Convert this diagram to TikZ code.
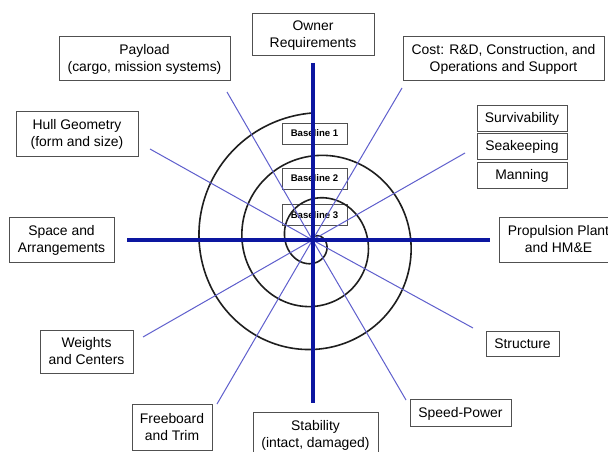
\documentclass[tikz,border=0pt]{standalone}
\usepackage{fontspec}
\setmainfont{Liberation Sans}
\definecolor{thick}{RGB}{12,22,160}
\definecolor{thin}{RGB}{95,95,205}
\definecolor{boxc}{RGB}{80,80,80}
\definecolor{spir}{RGB}{30,30,30}
\tikzset{
  lbl/.style={draw=boxc, line width=0.9pt, fill=white, inner sep=0pt, align=center,
    text depth=0.3pt, font=\fontsize{13.9}{17}\selectfont},
  basebox/.style={draw=boxc, line width=0.9pt, fill=white, inner sep=0pt,
    minimum width=65pt, minimum height=21pt, font=\fontsize{9.6}{11}\selectfont\bfseries},
  thickline/.style={draw=thick, line width=4pt},
  thinline/.style={draw=thin, line width=1pt},
  spiralline/.style={draw=spir, line width=1.6pt}
}
\begin{document}
\begin{tikzpicture}[x=1pt, y=-1pt,
  declare function={spr(\t)=127-0.1194*\t+1.175+3.65*cos(90+\t)-2*sin(90+\t)-0.825*cos(180+2*\t);}]
\useasboundingbox (0,0) rectangle (608,452);
\clip (0,0) rectangle (608,452);
\fill[white] (0,0) rectangle (608,452);

% boxes
\node[lbl, minimum width=122pt, minimum height=42pt] (owner) at (313,34) {Owner\\Requirements};
\node[lbl, minimum width=171pt, minimum height=44pt] (payload) at (144.5,58) {Payload\\(cargo, mission systems)};
\node[lbl, minimum width=122pt, minimum height=45pt] (hull) at (77,133.5) {Hull Geometry\\(form and size)};
\node[lbl, minimum width=201pt, minimum height=44pt] (cost) at (503.5,58) {Cost: R\&D, Construction, and\\Operations and Support};
\node[lbl, minimum width=90pt, minimum height=26pt] (surv) at (522,118) {Survivability};
\node[lbl, minimum width=90pt, minimum height=26pt] (seak) at (522,146) {Seakeeping};
\node[lbl, minimum width=90pt, minimum height=26pt] (mann) at (522,175) {Manning};
\node[lbl, minimum width=105pt, minimum height=45pt] (space) at (61.5,239.5) {Space and\\Arrangements};
\node[lbl, minimum width=119pt, minimum height=45pt] (prop) at (558.5,239.5) {Propulsion Plant\\and HM\&E};
\node[lbl, minimum width=93pt, minimum height=43pt] (weights) at (86.5,351.5) {Weights\\and Centers};
\node[lbl, minimum width=80pt, minimum height=46pt] (freeb) at (172,427) {Freeboard\\and Trim};
\node[lbl, minimum width=125pt, minimum height=44pt] (stab) at (315.5,434) {Stability\\(intact, damaged)};
\node[lbl, minimum width=73pt, minimum height=25pt] (struct) at (522.5,343.5) {Structure};
\node[lbl, minimum width=101pt, minimum height=27pt] (speed) at (460.5,412.5) {Speed-Power};

\node[basebox] (b1) at (314.5,133.5) {Baseline 1};
\node[basebox] (b2) at (314.5,178.5) {Baseline 2};
\node[basebox] (b3) at (314.5,215) {Baseline 3};

% spiral
\draw[spiralline] plot[domain=0:1040, samples=500] ({312+spr(\x)*cos(90+\x)}, {240-spr(\x)*sin(90+\x)});

% coordinates
\coordinate (c) at (312.5,240);
\coordinate (ePay) at (227,92);
\coordinate (eHull) at (150,149);
\coordinate (eCost) at (402,88);
\coordinate (eSurv) at (465,153);
\coordinate (eWts) at (143,337);
\coordinate (eStr) at (473,328);
\coordinate (eSpd) at (406,400);
\coordinate (eFrb) at (217,404);
\coordinate (eTop) at (313,63);
\coordinate (eBot) at (313,403);
\coordinate (eLft) at (127,240);
\coordinate (eRgt) at (490,240);

\draw[thinline] (c) -- (ePay);
\draw[thinline] (c) -- (eHull);
\draw[thinline] (c) -- (eCost);
\draw[thinline] (c) -- (eSurv);
\draw[thinline] (c) -- (eWts);
\draw[thinline] (c) -- (eStr);
\draw[thinline] (c) -- (eSpd);
\draw[thinline] (c) -- (eFrb);

\draw[thickline] (eTop) -- (eBot);
\draw[thickline] (eLft) -- (eRgt);
\end{tikzpicture}
\end{document}
